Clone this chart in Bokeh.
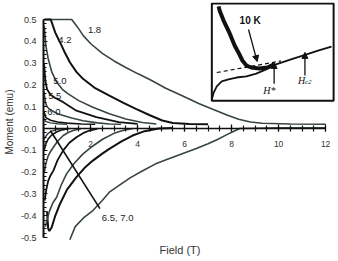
from bokeh.plotting import figure
from bokeh.models import (Range1d, LinearAxis, SingleIntervalTicker, NumeralTickFormatter,
                          Title, Arrow, NormalHead)
from bokeh.core.properties import value
from bokeh.embed import file_html
from bokeh.resources import INLINE

# ---------------- data ----------------
temps = ["1.8", "4.2", "5.0", "5.5", "6.0", "6.5", "7.0"]

up18_x = [0.0, 1.2, 1.45, 1.7, 2.0, 2.5, 3.0, 3.5, 4.0, 4.6, 5.2, 5.9, 6.6, 7.2, 7.8, 8.3, 8.8, 9.3, 10.5, 12.0]
up18_y = [0.5, 0.5, 0.465, 0.425, 0.39, 0.345, 0.31, 0.28, 0.252, 0.22, 0.185, 0.15, 0.115, 0.088, 0.062, 0.043, 0.03, 0.024, 0.021, 0.02]
up42_x = [0.05, 0.31, 0.5, 0.7, 0.9, 1.12, 1.4, 1.68, 2.2, 2.8, 3.4, 3.93, 4.5, 5.05, 5.5, 6.2, 7.0]
up42_y = [0.5, 0.5, 0.44, 0.396, 0.35, 0.304, 0.26, 0.228, 0.185, 0.151, 0.118, 0.09, 0.062, 0.037, 0.025, 0.021, 0.02]
up50_x = [0.03, 0.1, 0.2, 0.35, 0.55, 0.8, 1.05, 1.5, 2.1, 2.8, 3.5, 4.2, 4.8]
up50_y = [0.47, 0.38, 0.32, 0.26, 0.215, 0.18, 0.159, 0.128, 0.098, 0.068, 0.044, 0.028, 0.021]
up55_x = [0.02, 0.08, 0.15, 0.3, 0.5, 0.84, 1.4, 2.25, 3.2, 4.0]
up55_y = [0.3, 0.22, 0.18, 0.155, 0.14, 0.121, 0.082, 0.052, 0.029, 0.021]
up60_x = [0.02, 0.08, 0.15, 0.3, 0.6, 0.84, 1.2, 1.68, 2.3, 2.8, 3.3]
up60_y = [0.17, 0.12, 0.1, 0.085, 0.068, 0.06, 0.048, 0.036, 0.026, 0.021, 0.02]
up65_x = [0.02, 0.1, 0.3, 0.6, 1.0, 1.6, 2.2]
up65_y = [0.08, 0.05, 0.038, 0.03, 0.025, 0.021, 0.02]
up70_x = [0.02, 0.1, 0.3, 0.6, 1.0]
up70_y = [0.045, 0.032, 0.026, 0.022, 0.02]

dn18_x = [1.12, 1.35, 1.7, 2.1, 2.5, 2.8, 3.2, 3.7, 4.2, 4.77, 5.3, 5.9, 6.5, 7.0, 7.4, 7.8, 8.1, 8.35, 10.0, 12.0]
dn18_y = [-0.51, -0.45, -0.41, -0.376, -0.33, -0.292, -0.262, -0.225, -0.195, -0.162, -0.14, -0.116, -0.092, -0.07, -0.05, -0.028, -0.012, 0.0, 0.003, 0.003]
dn42_x = [0.15, 0.2, 0.25, 0.35, 0.5, 0.7, 1.0, 1.4, 1.75, 2.1, 2.5, 2.8, 3.3, 3.79, 4.3, 4.9, 5.5]
dn42_y = [-0.38, -0.46, -0.47, -0.453, -0.4, -0.346, -0.28, -0.223, -0.18, -0.147, -0.115, -0.093, -0.06, -0.032, -0.012, 0.0, 0.003]
dn50_x = [0.08, 0.15, 0.25, 0.4, 0.56, 0.75, 0.98, 1.3, 1.68, 2.1, 2.53, 3.0, 3.37, 3.8]
dn50_y = [-0.45, -0.42, -0.38, -0.34, -0.315, -0.26, -0.208, -0.16, -0.116, -0.08, -0.048, -0.022, -0.009, 0.0]
dn55_x = [0.05, 0.12, 0.2, 0.3, 0.42, 0.6, 0.84, 1.1, 1.4, 1.7, 1.96, 2.3]
dn55_y = [-0.33, -0.28, -0.24, -0.215, -0.193, -0.145, -0.1, -0.065, -0.04, -0.02, -0.009, 0.0]
dn60_x = [0.04, 0.1, 0.2, 0.3, 0.42, 0.6, 0.84, 1.05, 1.26, 1.6]
dn60_y = [-0.2, -0.16, -0.125, -0.105, -0.086, -0.058, -0.032, -0.018, -0.009, 0.0]
dn65_x = [0.03, 0.1, 0.2, 0.35, 0.55, 0.8, 1.1]
dn65_y = [-0.1, -0.07, -0.048, -0.03, -0.016, -0.006, 0.0]
dn70_x = [0.03, 0.1, 0.2, 0.35, 0.55, 0.8]
dn70_y = [-0.05, -0.035, -0.022, -0.012, -0.005, 0.0]

# temperature labels (x, y)
label_text = ["1.8", "4.2", "5.0", "5.5", "6.0", "6.5, 7.0"]
label_x = [1.89, 0.63, 0.42, 0.2, 0.16, 2.48]
label_y = [0.454, 0.404, 0.22, 0.149, 0.076, -0.41]
pointer_x = [0.29, 2.4]
pointer_y = [-0.009, -0.367]

# inset (drawn in main data coordinates)
inset_box = dict(left=7.16, right=12.34, bottom=0.128, top=0.573)
inset10k_x = [7.45, 7.49, 7.66, 7.92, 8.13, 8.29, 8.46, 8.63, 8.84, 9.18, 9.52, 9.81]
inset10k_y = [0.56, 0.541, 0.495, 0.436, 0.381, 0.349, 0.312, 0.289, 0.28, 0.275, 0.28, 0.294]
insetlow_x = [7.16, 7.24, 7.37, 7.58, 7.87, 8.21, 8.63, 9.05, 9.47, 9.89, 10.53, 11.16, 11.71, 12.25]
insetlow_y = [0.133, 0.165, 0.193, 0.216, 0.225, 0.234, 0.239, 0.252, 0.271, 0.294, 0.317, 0.339, 0.358, 0.376]
insetdash_x = [7.37, 10.1]
insetdash_y = [0.257, 0.31]

GRAY = "#364444"
BLACK = "#111111"

p = figure(width=338, height=261, x_range=Range1d(0, 12.42), y_range=Range1d(-0.518, 0.578),
           output_backend="svg", toolbar_location=None, x_axis_location=None,
           min_border_left=40, min_border_right=3, min_border_top=2, min_border_bottom=20)
p.outline_line_color = None
p.grid.visible = False
p.background_fill_color = "white"

# y axis
ya = p.yaxis[0]
ya.bounds = (-0.5, 0.5)
ya.ticker = SingleIntervalTicker(interval=0.1, num_minor_ticks=5)
ya.formatter = NumeralTickFormatter(format="0.0")
ya.axis_line_width = 2
ya.axis_line_color = BLACK
ya.major_tick_in = 4
ya.major_tick_out = 0
ya.minor_tick_in = 3
ya.minor_tick_out = 0
ya.major_tick_line_color = BLACK
ya.minor_tick_line_color = BLACK
ya.major_label_standoff = 7
ya.major_label_text_font = "Liberation Sans"
ya.major_label_text_font_size = "9px"
ya.major_label_text_color = "#333333"
ya.axis_label = "Moment (emu)"
ya.axis_label_text_font = "Liberation Sans"
ya.axis_label_text_font_size = "10px"
ya.axis_label_text_font_style = "normal"
ya.axis_label_text_color = "#333333"
ya.axis_label_standoff = 3

# x axis through zero
xa = LinearAxis(fixed_location=0)
xa.bounds = (0, 12)
xa.ticker = SingleIntervalTicker(interval=2, num_minor_ticks=4)
xa.axis_line_width = 1.5
xa.axis_line_color = BLACK
xa.major_tick_in = 4
xa.major_tick_out = 3
xa.minor_tick_in = 3
xa.minor_tick_out = 3
xa.major_tick_line_color = BLACK
xa.minor_tick_line_color = BLACK
xa.major_tick_line_width = 1.2
xa.minor_tick_line_width = 1.2
xa.major_label_standoff = 9
xa.major_label_text_font = "Liberation Sans"
xa.major_label_text_font_size = "8.5px"
xa.major_label_text_color = "#333333"
p.add_layout(xa, "below")

p.add_layout(Title(text="Field (T)", align="left", offset=116, standoff=0,
                   text_font="Liberation Sans", text_font_size="11px",
                   text_font_style="normal", text_color="#333333"), "below")

ups = [(up18_x, up18_y, GRAY, 1.6), (up42_x, up42_y, BLACK, 2.0), (up50_x, up50_y, GRAY, 1.6),
       (up55_x, up55_y, BLACK, 1.8), (up60_x, up60_y, GRAY, 1.6), (up65_x, up65_y, BLACK, 1.6),
       (up70_x, up70_y, GRAY, 1.5)]
dns = [(dn18_x, dn18_y, GRAY, 1.6), (dn42_x, dn42_y, BLACK, 2.0), (dn50_x, dn50_y, GRAY, 1.6),
       (dn55_x, dn55_y, BLACK, 1.8), (dn60_x, dn60_y, GRAY, 1.6), (dn65_x, dn65_y, BLACK, 1.6),
       (dn70_x, dn70_y, GRAY, 1.5)]
for xs, ys, c, w in ups + dns:
    p.line(xs, ys, line_color=c, line_width=w)

p.line(pointer_x, pointer_y, line_color=BLACK, line_width=1.6)
p.text(x=label_x, y=label_y, text=label_text, text_font=value("Liberation Sans"),
       text_font_size="9.5px", text_baseline="middle", text_align="left", text_color="#222222",
       background_fill_color=None)

# inset
p.quad(left=[inset_box["left"]], right=[inset_box["right"]], bottom=[inset_box["bottom"]],
       top=[inset_box["top"]], fill_color="white", line_color=BLACK, line_width=2)
p.line(insetdash_x, insetdash_y, line_color=BLACK, line_width=1.2, line_dash="4 3")
p.line(insetlow_x, insetlow_y, line_color=BLACK, line_width=1.8)
p.line(inset10k_x, inset10k_y, line_color=BLACK, line_width=4)

head = dict(size=6, fill_color=BLACK, line_color=BLACK)
p.add_layout(Arrow(end=NormalHead(**head), x_start=8.72, y_start=0.454, x_end=9.09, y_end=0.307,
                   line_width=1.3, line_color=BLACK))
p.add_layout(Arrow(end=NormalHead(**head), x_start=9.81, y_start=0.205, x_end=9.81, y_end=0.303,
                   line_width=1.3, line_color=BLACK))
p.add_layout(Arrow(end=NormalHead(**head), x_start=11.12, y_start=0.243, x_end=11.12, y_end=0.349,
                   line_width=1.3, line_color=BLACK))
p.text(x=[8.34], y=[0.495], text=["10 K"], text_font=value("Liberation Sans"),
       text_font_size="10px", text_font_style="bold", text_baseline="middle", text_color=BLACK)
p.text(x=[9.35], y=[0.174], text=["H*"], text_font=value("Liberation Serif"),
       text_font_size="10px", text_font_style="italic", text_baseline="middle", text_color=BLACK)
p.text(x=[10.82], y=[0.222], text=["H"], text_font=value("Liberation Serif"),
       text_font_size="10px", text_font_style="italic", text_baseline="middle", text_color=BLACK)
p.text(x=[11.12], y=[0.212], text=["c2"], text_font=value("Liberation Serif"),
       text_font_size="7px", text_font_style="italic", text_baseline="middle", text_color=BLACK)

open("out.html", "w").write(file_html(p, INLINE))
